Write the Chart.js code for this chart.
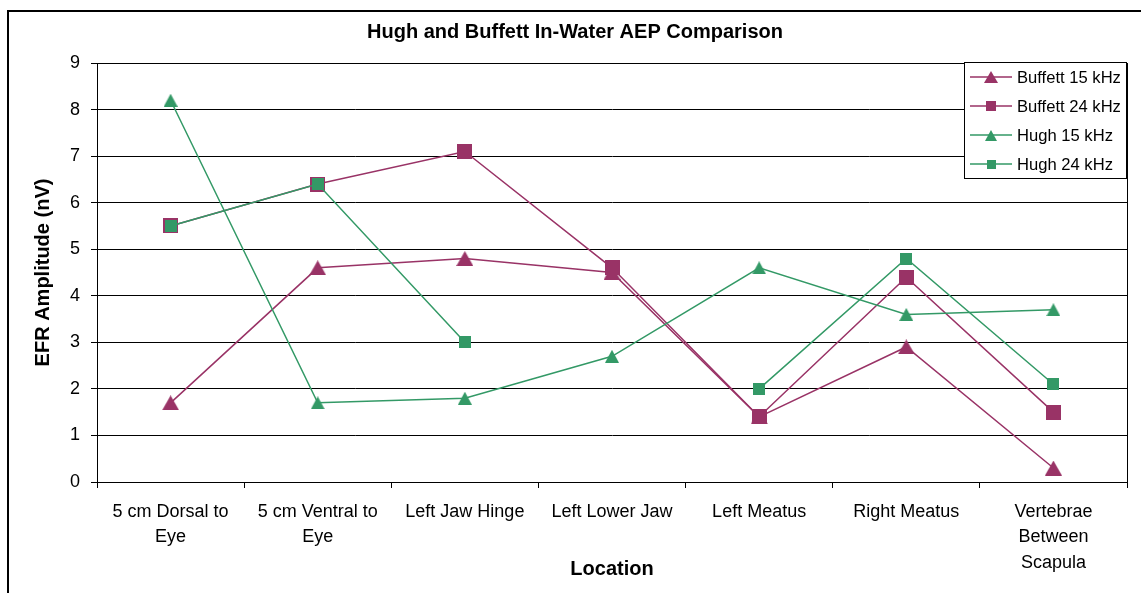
<!DOCTYPE html>
<html>
<head>
<meta charset="utf-8">
<title>Hugh and Buffett In-Water AEP Comparison</title>
<script src="https://cdn.jsdelivr.net/npm/chart.js@4.4.1/dist/chart.umd.min.js"></script>
<style>
  html, body { margin: 0; padding: 0; background: #fff; overflow: hidden; }
  #wrap { position: relative; width: 1141px; height: 593px; }
  #frame { position: absolute; left: 7px; top: 10px; width: 1200px; height: 700px;
           border: 2px solid #000; box-sizing: border-box; }
  #chart { position: absolute; left: 0; top: 0; }
</style>
</head>
<body>
<div id="wrap">
  <div id="frame"></div>
  <canvas id="chart" width="1141" height="593"></canvas>
</div>
<script>
// Recording locations (multi-line tick labels)
const categories = [
  ['5 cm Dorsal to', 'Eye'],
  ['5 cm Ventral to', 'Eye'],
  'Left Jaw Hinge',
  'Left Lower Jaw',
  'Left Meatus',
  'Right Meatus',
  ['Vertebrae', 'Between', 'Scapula']
];

// EFR amplitudes in nV
const buffett15 = [1.7, 4.6, 4.8, 4.5, 1.4, 2.9, 0.3];
const buffett24 = [5.5, 6.4, 7.1, 4.6, 1.4, 4.4, 1.5];
const hugh15    = [8.2, 1.7, 1.8, 2.7, 4.6, 3.6, 3.7];
const hugh24    = [5.5, 6.4, 3.0, null, 2.0, 4.8, 2.1];

const seriesNames = ['Buffett 15 kHz', 'Buffett 24 kHz', 'Hugh 15 kHz', 'Hugh 24 kHz'];
const yTickValues = [0, 1, 2, 3, 4, 5, 6, 7, 8, 9];

const MAROON = '#993366';
const GREEN = '#339966';
const FONT = '"Liberation Sans", Arial, Helvetica, sans-serif';

// Marker bitmaps: triangles and squares centred in their own box
function triangleMarker(color, w, h) {
  const c = document.createElement('canvas');
  c.width = w; c.height = h;
  const g = c.getContext('2d');
  g.fillStyle = color;
  g.beginPath();
  g.moveTo(w / 2, 0);
  g.lineTo(w, h);
  g.lineTo(0, h);
  g.closePath();
  g.fill();
  return c;
}
function squareMarker(color, s) {
  const c = document.createElement('canvas');
  c.width = s; c.height = s;
  const g = c.getContext('2d');
  g.fillStyle = color;
  g.fillRect(0, 0, s, s);
  return c;
}

const markers = [
  triangleMarker(MAROON, 17, 15),
  squareMarker(MAROON, 15),
  triangleMarker(GREEN, 14, 13),
  squareMarker(GREEN, 12)
];
const legendMarkers = [
  triangleMarker(MAROON, 14, 12),
  squareMarker(MAROON, 10),
  triangleMarker(GREEN, 12, 11),
  squareMarker(GREEN, 9)
];

const seriesValues = [buffett15, buffett24, hugh15, hugh24];
const seriesColors = [MAROON, MAROON, GREEN, GREEN];

const datasets = seriesValues.map((vals, i) => ({
  label: seriesNames[i],
  data: vals,
  borderColor: seriesColors[i],
  backgroundColor: seriesColors[i],
  borderWidth: 1.5,
  pointStyle: markers[i],
  pointRadius: 7,
  pointHoverRadius: 7,
  fill: false,
  tension: 0,
  spanGaps: false,
  // later series are painted over earlier ones
  order: seriesValues.length - i
}));

// Thin frame around the plotting area
const plotFrame = {
  id: 'plotFrame',
  beforeDatasetsDraw(chart) {
    const { ctx, chartArea: a } = chart;
    ctx.save();
    ctx.strokeStyle = '#000';
    ctx.lineWidth = 1;
    ctx.strokeRect(Math.round(a.left) + 0.5, Math.round(a.top) + 0.5,
                   Math.round(a.right - a.left), Math.round(a.bottom - a.top));
    ctx.restore();
  }
};

// Boxed legend in the upper right corner of the plot
const boxLegend = {
  id: 'boxLegend',
  afterDraw(chart) {
    const { ctx } = chart;
    const x0 = 964, y0 = 62, w = 162, h = 116;
    const rowY = [77, 106, 135, 164];
    ctx.save();
    ctx.fillStyle = '#fff';
    ctx.fillRect(x0, y0, w, h);
    ctx.strokeStyle = '#000';
    ctx.lineWidth = 1;
    ctx.strokeRect(x0 + 0.5, y0 + 0.5, w, h);
    chart.data.datasets.forEach((ds, i) => {
      const y = rowY[i];
      ctx.strokeStyle = ds.borderColor;
      ctx.lineWidth = 1.5;
      ctx.beginPath();
      ctx.moveTo(970, y);
      ctx.lineTo(1012, y);
      ctx.stroke();
      const m = legendMarkers[i];
      ctx.drawImage(m, Math.round(991 - m.width / 2), Math.round(y - m.height / 2));
      ctx.fillStyle = '#000';
      ctx.font = '16.6px ' + FONT;
      ctx.textBaseline = 'middle';
      ctx.textAlign = 'left';
      ctx.fillText(ds.label, 1017, y + 1);
    });
    ctx.restore();
  }
};

new Chart(document.getElementById('chart'), {
  type: 'line',
  data: { labels: categories, datasets },
  plugins: [plotFrame, boxLegend],
  options: {
    responsive: false,
    animation: false,
    events: [],
    layout: { padding: { left: 23, right: 14, top: 0, bottom: 0 } },
    plugins: {
      legend: { display: false },
      tooltip: { enabled: false },
      title: {
        display: true,
        text: 'Hugh and Buffett In-Water AEP Comparison',
        color: '#000',
        font: { family: FONT, size: 20, weight: 'bold' },
        padding: { top: 20, bottom: 19 }
      }
    },
    scales: {
      x: {
        type: 'category',
        offset: true,
        afterFit(scale) { scale.height = 111; },
        grid: { offset: true, drawOnChartArea: false, drawTicks: true, tickLength: 6, color: '#000' },
        border: { display: true, color: '#000', width: 1 },
        ticks: {
          color: '#000',
          font: { family: FONT, size: 18, lineHeight: 1.42 },
          padding: 11,
          maxRotation: 0,
          minRotation: 0,
          autoSkip: false
        },
        title: {
          display: true,
          text: 'Location',
          color: '#000',
          font: { family: FONT, size: 20, weight: 'bold' },
          padding: { top: 0, bottom: 12 }
        }
      },
      y: {
        min: 0,
        max: 9,
        afterFit(scale) { scale.width = 74; },
        afterBuildTicks(scale) { scale.ticks = yTickValues.map(v => ({ value: v })); },
        grid: { color: '#000', lineWidth: 1, drawTicks: true, tickLength: 6 },
        border: { display: true, color: '#000', width: 1 },
        ticks: {
          color: '#000',
          font: { family: FONT, size: 18 },
          padding: 11
        },
        title: {
          display: true,
          text: 'EFR Amplitude (nV)',
          color: '#000',
          font: { family: FONT, size: 20, weight: 'bold' },
          padding: { top: 8, bottom: 0 }
        }
      }
    }
  }
});
</script>
</body>
</html>
